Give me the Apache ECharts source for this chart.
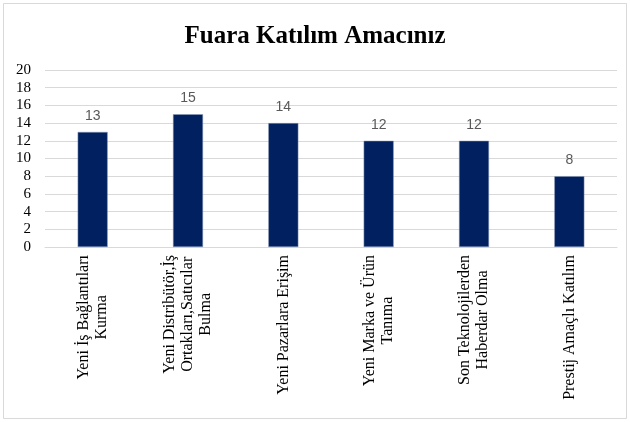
<!DOCTYPE html>
<html>
<head>
<meta charset="utf-8">
<script src="https://cdn.jsdelivr.net/npm/echarts@6/dist/echarts.min.js"></script>
<style>
html,body{margin:0;padding:0;background:#fff;}
#chart{width:630px;height:422px;}
</style>
</head>
<body>
<div id="chart"></div>
<script>
var titleText = 'Fuara Katılım Amacınız';
var categories = [
  'Yeni İş Bağlantıları\nKurma',
  'Yeni Distribütör,İş\nOrtakları,Satıcılar\nBulma',
  'Yeni Pazarlara Erişim',
  'Yeni Marka ve Ürün\nTanıma',
  'Son Teknolojilerden\nHaberdar Olma',
  'Prestij Amaçlı Katılım'
];
var values = [13, 15, 14, 12, 12, 8];
var yMin = 0, yMax = 20, yStep = 2;

var chart = echarts.init(document.getElementById('chart'), null, {renderer: 'canvas'});
var serif = "'Liberation Serif', 'Times New Roman', serif";
chart.setOption({
  animation: false,
  backgroundColor: '#ffffff',
  graphic: [{
    type: 'rect',
    shape: {x: 3.5, y: 3.5, width: 623, height: 415},
    style: {fill: 'none', stroke: '#d9d9d9', lineWidth: 1},
    silent: true, z: -10
  }],
  title: {
    text: titleText,
    left: 'center',
    top: 19,
    textStyle: {fontFamily: serif, fontWeight: 'bold', fontSize: 25, color: '#000000'}
  },
  grid: {left: 45, right: 13, top: 70, bottom: 175, containLabel: false},
  xAxis: {
    type: 'category',
    data: categories,
    axisTick: {show: false},
    axisLine: {show: true, lineStyle: {color: '#d9d9d9', width: 1}},
    axisLabel: {
      interval: 0,
      rotate: 90,
      margin: 8,
      formatter: function (v) {
        return v.split('\n').map(function (l) { return '{c|' + l + '}'; }).join('\n');
      },
      rich: {
        c: {align: 'center', fontFamily: serif, fontSize: 16, lineHeight: 18, color: '#000000'}
      }
    }
  },
  yAxis: {
    type: 'value',
    min: yMin, max: yMax, interval: yStep,
    axisLine: {show: false},
    axisTick: {show: false},
    splitLine: {lineStyle: {color: '#d9d9d9', width: 1}},
    axisLabel: {margin: 14, fontFamily: serif, fontSize: 15, color: '#000000'}
  },
  series: [{
    type: 'bar',
    data: values,
    barWidth: 30,
    itemStyle: {color: '#002060', borderColor: '#8a9ab8', borderWidth: 0.5},
    label: {
      show: true,
      position: 'top',
      distance: 9,
      fontFamily: "'Liberation Sans', Arial, sans-serif",
      fontSize: 14,
      color: '#595959'
    }
  }]
});
</script>
</body>
</html>
